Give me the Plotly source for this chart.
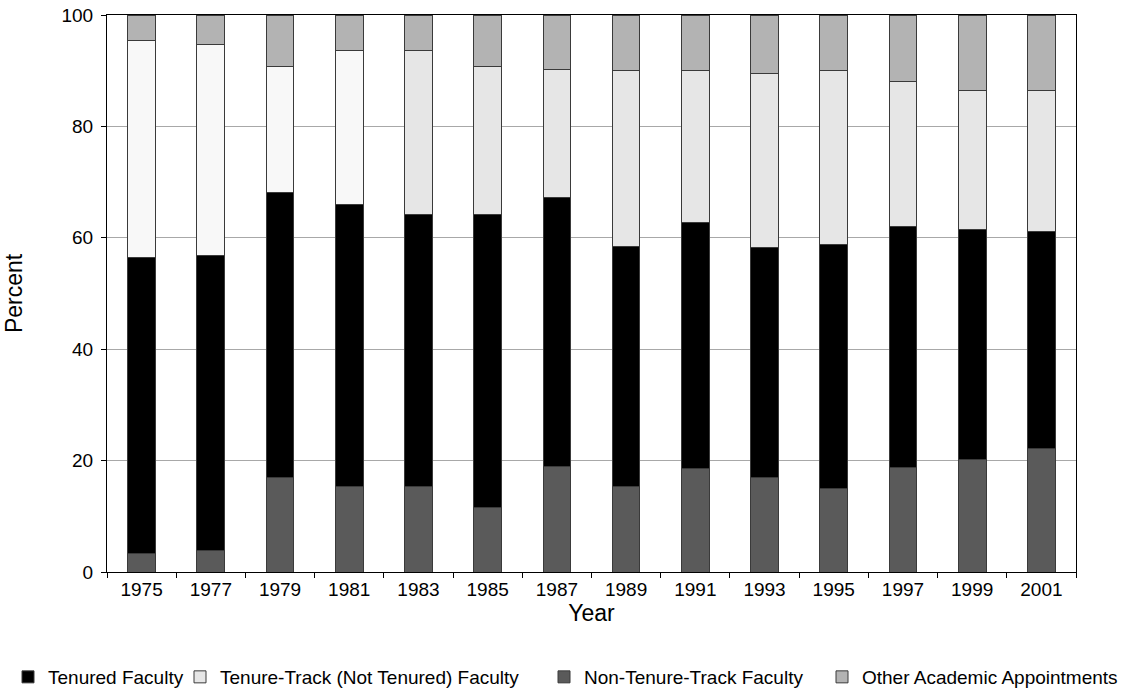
import plotly.graph_objects as go

years = ["1975", "1977", "1979", "1981", "1983", "1985", "1987",
         "1989", "1991", "1993", "1995", "1997", "1999", "2001"]

non_tenure_track = [3.4, 3.8, 16.9, 15.4, 15.4, 11.6, 19.0, 15.4, 18.5, 16.9, 15.0, 18.8, 20.2, 22.1]
tenured = [53.1, 53.1, 51.2, 50.5, 48.8, 52.6, 48.3, 43.1, 44.2, 41.3, 43.8, 43.3, 41.3, 39.1]
tenure_track = [39.0, 37.8, 22.7, 27.7, 29.4, 26.6, 22.9, 31.5, 27.3, 31.3, 31.2, 26.0, 24.9, 25.2]
other = [4.5, 5.3, 9.2, 6.4, 6.4, 9.2, 9.8, 10.0, 10.0, 10.5, 10.0, 11.9, 13.6, 13.6]

y_ticks = [0, 20, 40, 60, 80, 100]

FONT = "Liberation Sans, Arial, sans-serif"
FS = 19
LFS = 19
W, H = 1133, 696
edge = dict(color="#3a3a3a", width=1)

tt_colors = ["#f8f8f8"] * 4 + ["#e6e6e6"] * 10

fig = go.Figure()
fig.add_trace(go.Bar(x=years, y=non_tenure_track, name="Non-Tenure-Track Faculty",
                     marker=dict(color="#5a5a5a", line=edge), legend="legend3"))
fig.add_trace(go.Bar(x=years, y=tenured, name="Tenured Faculty",
                     marker=dict(color="#000000", line=edge), legend="legend"))
fig.add_trace(go.Bar(x=years, y=tenure_track, name="Tenure-Track (Not Tenured) Faculty",
                     marker=dict(color=tt_colors, line=edge), showlegend=False))
# legend entry for tenure-track with the uniform legend colour
fig.add_trace(go.Bar(x=[years[0]], y=[None], name="Tenure-Track (Not Tenured) Faculty",
                     marker=dict(color="#e6e6e6", line=edge), legend="legend2"))
fig.add_trace(go.Bar(x=years, y=other, name="Other Academic Appointments",
                     marker=dict(color="#b3b3b3", line=edge), legend="legend4"))

def leg(xpx):
    return dict(orientation="h", xref="container", yref="container",
                x=xpx / W, xanchor="left", y=0.0, yanchor="bottom",
                font=dict(size=LFS), itemclick=False, itemdoubleclick=False,
                bgcolor="rgba(0,0,0,0)")

fig.update_layout(
    barmode="stack",
    bargap=0.6,
    width=W, height=H,
    margin=dict(l=107, r=57, t=15, b=124, autoexpand=False),
    paper_bgcolor="white", plot_bgcolor="white",
    font=dict(family=FONT, size=FS, color="black"),
    showlegend=True,
    legend=leg(8), legend2=leg(180), legend3=leg(544), legend4=leg(822),
    xaxis=dict(type="category", title=dict(text="Year", standoff=6),
               showline=True, linecolor="black", linewidth=1, mirror=True,
               ticks="outside", tickson="boundaries", ticklen=5, tickcolor="black",
               showgrid=False),
    yaxis=dict(title=dict(text="Percent", standoff=32), range=[0, 100],
               tickvals=y_ticks, ticklabelstandoff=4, ticklabeloverflow="allow",
               showline=True, linecolor="black", linewidth=1, mirror=True,
               ticks="outside", ticklen=5, tickcolor="black",
               showgrid=True, gridcolor="#a8a8a8", gridwidth=1, zeroline=False),
)

fig.write_html("out.html", config={"displayModeBar": False},
               post_script="document.body.style.margin='0';document.body.style.padding='0';")
